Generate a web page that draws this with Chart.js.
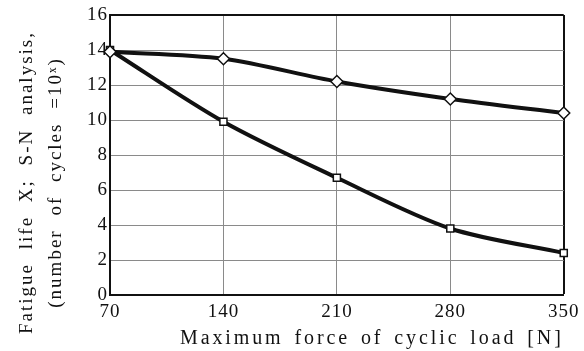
<!DOCTYPE html>
<html>
<head>
<meta charset="utf-8">
<script src="https://cdn.jsdelivr.net/npm/chart.js@4"></script>
<style>
	html, body { margin: 0; padding: 0; background: #fff; }
	#wrap { width: 584px; height: 351px; }
</style>
</head>
<body>
<div id="wrap"><canvas id="fatigueChart"></canvas></div>
<script>
// values
const loads = ['70', '140', '210', '280', '350'];
const lifeDiamond = [13.9, 13.5, 12.2, 11.2, 10.4];
const lifeSquare = [14.0, 9.9, 6.7, 3.8, 2.4];
const yTicks = [0, 2, 4, 6, 8, 10, 12, 14, 16];

const serif = 'Liberation Serif, Times New Roman, serif';

// wider letter spacing for the axis titles, like the scanned figure
function spaceTitle( scale, spacing, words ){
	if ( scale._spaced ) return;
	const orig = scale.drawTitle;
	scale.drawTitle = function(){
		this.ctx.save();
		this.ctx.letterSpacing = spacing;
		this.ctx.wordSpacing = words;
		orig.call( this );
		this.ctx.restore();
	};
	scale._spaced = true;
}

const letterSpacing = {
	id: 'letterSpacing',
	beforeDraw( chart ){
		chart.ctx.letterSpacing = '1px';
	}
};

new Chart( document.getElementById( 'fatigueChart' ), {
	type: 'line',
	data: {
		labels: loads,
		datasets: [{
			data: lifeDiamond,
			borderColor: '#111',
			borderWidth: 4,
			tension: 0.3,
			pointStyle: 'rectRot',
			pointRadius: 6,
			pointBorderWidth: 1.5,
			pointBackgroundColor: '#fff',
			pointBorderColor: '#111'
		}, {
			data: lifeSquare,
			borderColor: '#111',
			borderWidth: 4,
			tension: 0.3,
			pointStyle: 'rect',
			pointRadius: 5,
			pointBorderWidth: 1.5,
			pointBackgroundColor: '#fff',
			pointBorderColor: '#111'
		}]
	},
	options: {
		responsive: true,
		maintainAspectRatio: false,
		animation: false,
		layout: { padding: { left: 0, right: 15, top: 15, bottom: 0 } },
		plugins: {
			legend: { display: false },
			tooltip: { enabled: false }
		},
		scales: {
			x: {
				offset: false,
				afterFit: s => { s.height = 56; spaceTitle( s, '2.9px', '3px' ); },
				grid: {
					drawTicks: false,
					color: c => c.index === loads.length - 1 ? '#111' : '#8a8a8a',
					lineWidth: c => c.index === loads.length - 1 ? 2 : 1
				},
				border: { color: '#111', width: 2 },
				ticks: {
					padding: 6,
					maxRotation: 0,
					color: '#111',
					font: { family: serif, size: 19 }
				},
				title: {
					display: true,
					align: 'end',
					text: 'Maximum force of cyclic load [N]',
					color: '#111',
					padding: { top: 1, bottom: 0 },
					font: { family: serif, size: 20 }
				}
			},
			y: {
				min: 0,
				max: 16,
				afterBuildTicks: s => { s.ticks = yTicks.map( v => ({ value: v }) ); },
				afterFit: s => { s.width = 110; spaceTitle( s, '2px', '7px' ); },
				grid: {
					drawTicks: false,
					color: c => c.tick.value === 16 ? '#111' : '#8a8a8a',
					lineWidth: c => c.tick.value === 16 ? 2 : 1
				},
				border: { color: '#111', width: 2 },
				ticks: {
					padding: 2,
					color: '#111',
					font: { family: serif, size: 19 }
				},
				title: {
					display: true,
					text: ['Fatigue life X; S-N analysis,    ', '(number of cycles =10ˣ)    '],
					color: '#111',
					padding: { top: 13, bottom: 0 },
					font: { family: serif, size: 19, lineHeight: 1.5 }
				}
			}
		}
	},
	plugins: [ letterSpacing ]
});
</script>
</body>
</html>
